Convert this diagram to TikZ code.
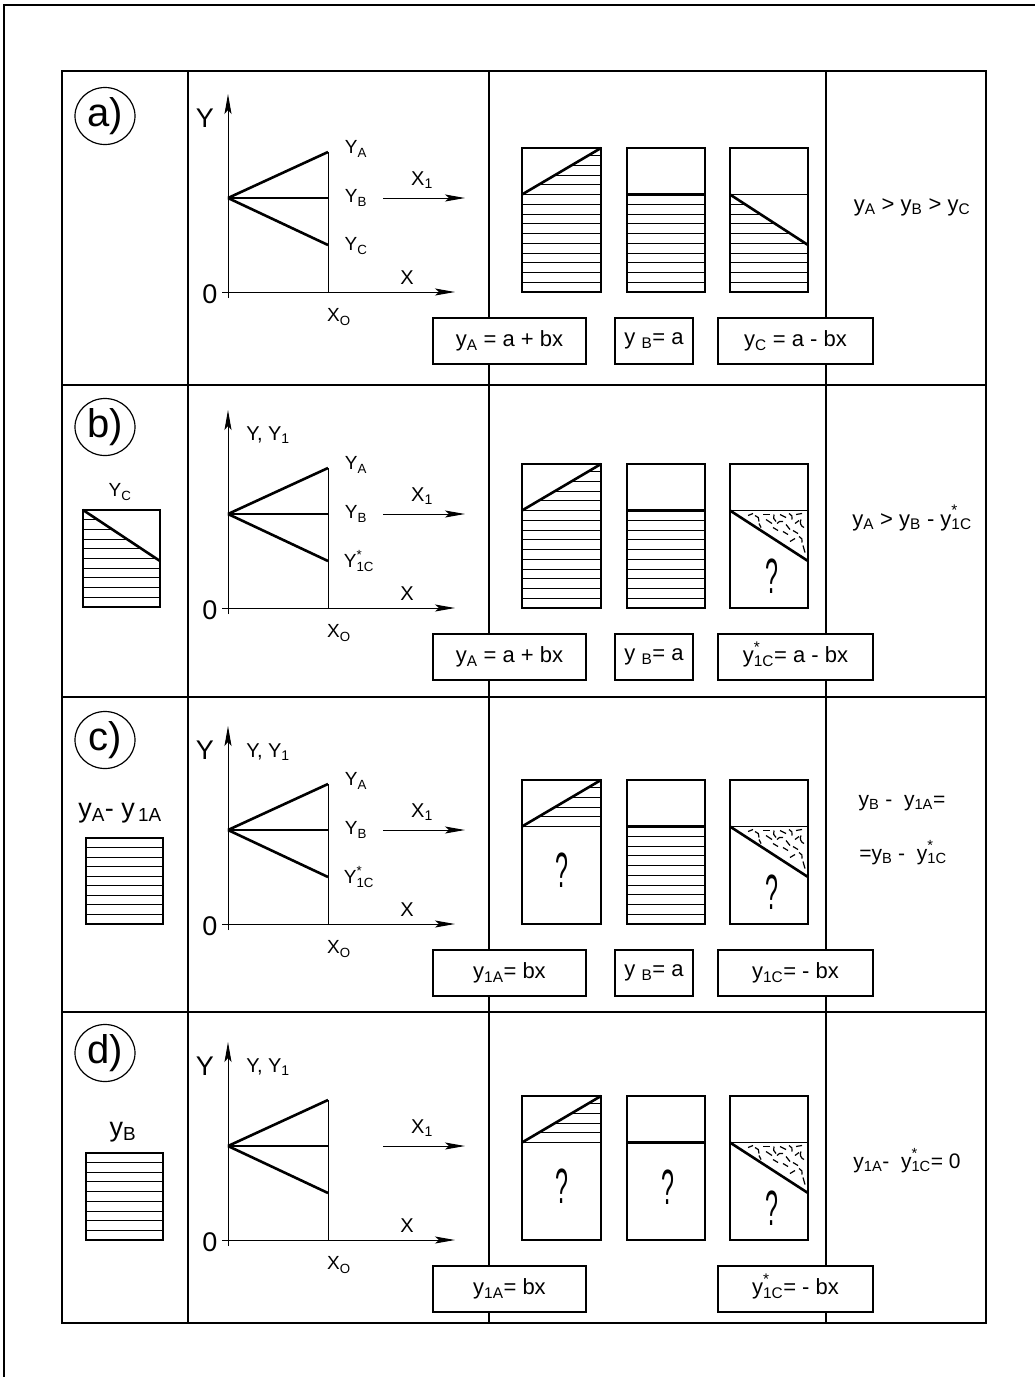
\documentclass[tikz,border=0pt]{standalone}
\usepackage{fontspec}
\usepackage{graphicx}
\setmainfont{Liberation Sans}
\usetikzlibrary{arrows.meta,shapes.geometric}
\newcommand\fs[1]{\fontsize{#1}{#1}\selectfont}
\newcommand\ystar[1]{y\rlap{\smash{\raisebox{0.12em}{\textsuperscript{*}}}}\textsubscript{#1}}
\newcommand\Ystar[1]{Y\rlap{\smash{\raisebox{0.12em}{\textsuperscript{*}}}}\textsubscript{#1}}
\newcommand\qmark{\scalebox{0.75}[1.6]{\fs{31}?}}
\tikzset{
  thinl/.style={line width=1pt},
  thickl/.style={line width=2.6pt},
  medl/.style={line width=1.8pt},
  tbl/.style={line width=1.4pt},
  barl/.style={line width=1.2pt},
  axarrow/.style={-{Stealth[length=20pt,width=7pt,inset=4pt]}},
  lbl/.style={inner sep=0pt},
  fbox/.style={draw, fill=white, line width=1.2pt, minimum height=46pt, inner sep=0pt, font=\fs{22}},
  lettercirc/.style={draw, ellipse, line width=1.2pt, minimum width=60pt, minimum height=57pt, inner sep=0pt, font=\fs{40}},
  squig/.style={line width=1.2pt}
}
% hatch lines between x1 and x2, bottom B, count k
\newcommand\hatch[4]{\foreach \k in {1,...,#4}{\draw[thinl] (#1,#3-\k*9.75) -- (#2,#3-\k*9.75);}}
% bar 1 : diagonal, full hatch
\newcommand\barAfull[1]{%
  \begin{scope}\clip (522,#1) -- (522,#1-97.5) -- (601,#1-144) -- (601,#1) -- cycle;
  \hatch{522}{601}{#1}{14}\end{scope}
  \draw[thickl] (522,#1-97.5) -- (601,#1-144);
  \draw[barl] (522,#1-144) rectangle (601,#1);}
% bar 1 : only the triangle hatched
\newcommand\barAtri[2]{%
  \begin{scope}\clip (522,#1-97.5) -- (601,#1-144) -- (601,#1-97.5) -- cycle;
  \hatch{522}{601}{#1}{14}\end{scope}
  \draw[thinl] (522,#1-97.5) -- (601,#1-97.5);
  \draw[thickl] (522,#1-97.5) -- (601,#1-144);
  \draw[barl] (522,#1-144) rectangle (601,#1);
  \node[lbl] (#2) at (562,#1-54) {\qmark};}
% bar 2 : level with hatch
\newcommand\barBfull[1]{%
  \hatch{627}{705}{#1}{9}
  \draw[thickl] (627,#1-97.5) -- (705,#1-97.5);
  \draw[barl] (627,#1-144) rectangle (705,#1);}
% bar 2 : level with question mark
\newcommand\barBq[2]{%
  \draw[thickl] (627,#1-97.5) -- (705,#1-97.5);
  \draw[barl] (627,#1-144) rectangle (705,#1);
  \node[lbl] (#2) at (668,#1-53) {\qmark};}
% bar 3 : descending diagonal, full hatch
\newcommand\barCfull[1]{%
  \begin{scope}\clip (730,#1) -- (730,#1-97.5) -- (808,#1-47) -- (808,#1) -- cycle;
  \hatch{730}{808}{#1}{14}\end{scope}
  \draw[thinl] (730,#1-97.5) -- (808,#1-97.5);
  \draw[thickl] (730,#1-97.5) -- (808,#1-47);
  \draw[barl] (730,#1-144) rectangle (808,#1);}
% bar 3 : squiggle triangle and question mark
\newcommand\barCsq[2]{%
  \begin{scope}[shift={(730,#1-97.5)}]
    \draw[squig] (18,5) -- (23,3);
    \draw[squig] (25,5) to[bend left=50] (29,11);
    \draw[squig] (33,4) -- (40,4);
    \draw[squig] (44,4) to[bend right=40] (46,11);
    \draw[squig] (50,4) -- (56,7);
    \draw[squig] (59,3) to[bend left=50] (62,9);
    \draw[squig] (66,4) -- (72,3);
    \draw[squig] (71,9) to[bend right=50] (74,17);
    \draw[squig] (36,9) -- (42,13);
    \draw[squig] (47,13) to[bend left=40] (53,11);
    \draw[squig] (56,14) -- (60,19);
    \draw[squig] (63,20) -- (68,23);
    \draw[squig] (69,26) to[bend left=50] (72,32);
    \draw[squig] (53,21) -- (58,24);
    \draw[squig] (60,31) -- (65,28);
    \draw[squig] (73,35) -- (75,42);
    \draw[squig] (29,13) -- (31,17);
    \draw[squig] (43,17) -- (48,20);
    \draw[squig] (65,13) -- (69,10);
  \end{scope}
  \draw[thinl] (730,#1-97.5) -- (808,#1-97.5);
  \draw[thickl] (730,#1-97.5) -- (808,#1-47);
  \draw[barl] (730,#1-144) rectangle (808,#1);
  \node[lbl] (#2) at (772,#1-32) {\qmark};}
\begin{document}
\begin{tikzpicture}[x=1pt,y=-1pt]
\useasboundingbox (0,0) rectangle (1035,1377);
% page frame
\draw[tbl] (3,5) -- (1035,5);
\draw[tbl] (4,5) -- (4,1377);
% table
\draw[tbl] (62,71) rectangle (986,1323);
\foreach \x in {188,489,826}{\draw[tbl] (\x,71) -- (\x,1323);}
\foreach \y in {385,697,1012}{\draw[tbl] (62,\y) -- (986,\y);}
% common graph parts
\foreach \B/\i in {292/a,608/b,924/c,1240/d}{
  \draw[thinl,axarrow] (228,\B+6) -- (228,\B-198);
  \draw[thinl,axarrow] (222,\B) -- (455,\B);
  \draw[thinl] (328,\B) -- (328,\B-140);
  \draw[thickl] (228,\B-94) -- (328,\B-140);
  \draw[thickl] (228,\B-94) -- (328,\B-47);
  \draw[thinl,axarrow] (383,\B-94) -- (465,\B-94);
  \node[lbl,font=\fs{27}] (zero\i) at (210,\B+2) {0};
  \node[lbl,font=\fs{20}] (xl\i) at (407,\B-14) {X};
  \node[lbl,font=\fs{19}] (xo\i) at (339,\B+25) {X\textsubscript{O}};
  \node[lbl,font=\fs{20}] (xone\i) at (422,\B-112) {X\textsubscript{1}};
}
% ---------- row a ----------
\node[lettercirc] (ca) at (105,116) {a)};
\draw[medl] (228,198) -- (328,198);
\node[lbl,font=\fs{27}] (ya) at (205,118) {Y};
\node[lbl,font=\fs{19}] (yaa) at (356,149) {Y\textsubscript{A}};
\node[lbl,font=\fs{19}] (yba) at (356,198) {Y\textsubscript{B}};
\node[lbl,font=\fs{19}] (yca) at (356,246) {Y\textsubscript{C}};
\barAfull{292}
\barBfull{292}
\barCfull{292}
\node[fbox,minimum width=153pt] (fa1) at (509.5,341) {y\textsubscript{A} = a + bx};
\node[fbox,minimum width=78pt] (fa2) at (654,341) {y \textsubscript{B}= a};
\node[fbox,minimum width=155pt] (fa3) at (795.5,341) {y\textsubscript{C} = a - bx};
\node[lbl,font=\fs{22}] (ra) at (912,207) {y\textsubscript{A} > y\textsubscript{B} > y\textsubscript{C}};
% ---------- row b ----------
\node[lettercirc] (cb) at (105,427) {b)};
\draw[medl] (228,514) -- (328,514);
\node[lbl,font=\fs{20}] (yyb) at (268,435) {Y, Y\textsubscript{1}};
\node[lbl,font=\fs{19}] (yab) at (356,465) {Y\textsubscript{A}};
\node[lbl,font=\fs{19}] (ybb) at (356,514) {Y\textsubscript{B}};
\node[lbl,font=\fs{19}] (ycb) at (359,563) {\Ystar{1C}};
\node[lbl,font=\fs{19}] (lb) at (120,492) {Y\textsubscript{C}};
\begin{scope}\clip (83,607) -- (83,510) -- (160,561) -- (160,607) -- cycle;
\foreach \k in {1,...,9}{\draw[thinl] (83,607-\k*9.7) -- (160,607-\k*9.7);}
\end{scope}
\draw[thickl] (83,510) -- (160,561);
\draw[barl] (83,510) rectangle (160,607);
\barAfull{608}
\barBfull{608}
\barCsq{608}{qb3}
\node[fbox,minimum width=153pt] (fb1) at (509.5,657) {y\textsubscript{A} = a + bx};
\node[fbox,minimum width=78pt] (fb2) at (654,657) {y \textsubscript{B}= a};
\node[fbox,minimum width=155pt] (fb3) at (795.5,657) {\ystar{1C}= a - bx};
\node[lbl,font=\fs{22}] (rb) at (912,522) {y\textsubscript{A} > y\textsubscript{B} - \ystar{1C}};
% ---------- row c ----------
\node[lettercirc] (cc) at (105,740) {c)};
\draw[thickl] (228,830) -- (328,830);
\node[lbl,font=\fs{27}] (yc) at (205,750) {Y};
\node[lbl,font=\fs{20}] (yyc) at (268,752) {Y, Y\textsubscript{1}};
\node[lbl,font=\fs{19}] (yac) at (356,781) {Y\textsubscript{A}};
\node[lbl,font=\fs{19}] (ybc) at (356,830) {Y\textsubscript{B}};
\node[lbl,font=\fs{19}] (ycc) at (359,879) {\Ystar{1C}};
\node[lbl,font=\fs{27}] (lc) at (120,813) {y\textsubscript{A}- y\textsubscript{\,1A}};
\foreach \k in {1,...,8}{\draw[thinl] (86,924-\k*9.56) -- (163,924-\k*9.56);}
\draw[barl] (86,838) rectangle (163,924);
\draw[thickl] (86,838) -- (163,838);
\barAtri{924}{qc1}
\barBfull{924}
\barCsq{924}{qc3}
\node[fbox,minimum width=153pt] (fc1) at (509.5,973) {y\textsubscript{1A}= bx};
\node[fbox,minimum width=78pt] (fc2) at (654,973) {y \textsubscript{B}= a};
\node[fbox,minimum width=155pt] (fc3) at (795.5,973) {y\textsubscript{1C}= - bx};
\node[lbl,font=\fs{21}] (rc1) at (902,803) {y\textsubscript{B} -\ \ y\textsubscript{1A}=};
\node[lbl,font=\fs{21}] (rc2) at (903,857) {=y\textsubscript{B} -\ \ \ystar{1C}};
% ---------- row d ----------
\node[lettercirc] (cd) at (105,1053) {d)};
\draw[thickl] (228,1146) -- (328,1146);
\node[lbl,font=\fs{27}] (yd) at (205,1066) {Y};
\node[lbl,font=\fs{20}] (yyd) at (268,1067) {Y, Y\textsubscript{1}};
\node[lbl,font=\fs{27}] (ld) at (123,1132) {y\textsubscript{B}};
\foreach \k in {1,...,8}{\draw[thinl] (86,1240-\k*9.67) -- (163,1240-\k*9.67);}
\draw[barl] (86,1153) rectangle (163,1240);
\draw[thickl] (86,1153) -- (163,1153);
\barAtri{1240}{qd1}
\barBq{1240}{qd2}
\barCsq{1240}{qd3}
\node[fbox,minimum width=153pt] (fd1) at (509.5,1289) {y\textsubscript{1A}= bx};
\node[fbox,minimum width=155pt] (fd3) at (795.5,1289) {\ystar{1C}= - bx};
\node[lbl,font=\fs{21}] (rd) at (907,1163) {y\textsubscript{1A}-\ \ \ystar{1C}= 0};
\end{tikzpicture}
\end{document}
